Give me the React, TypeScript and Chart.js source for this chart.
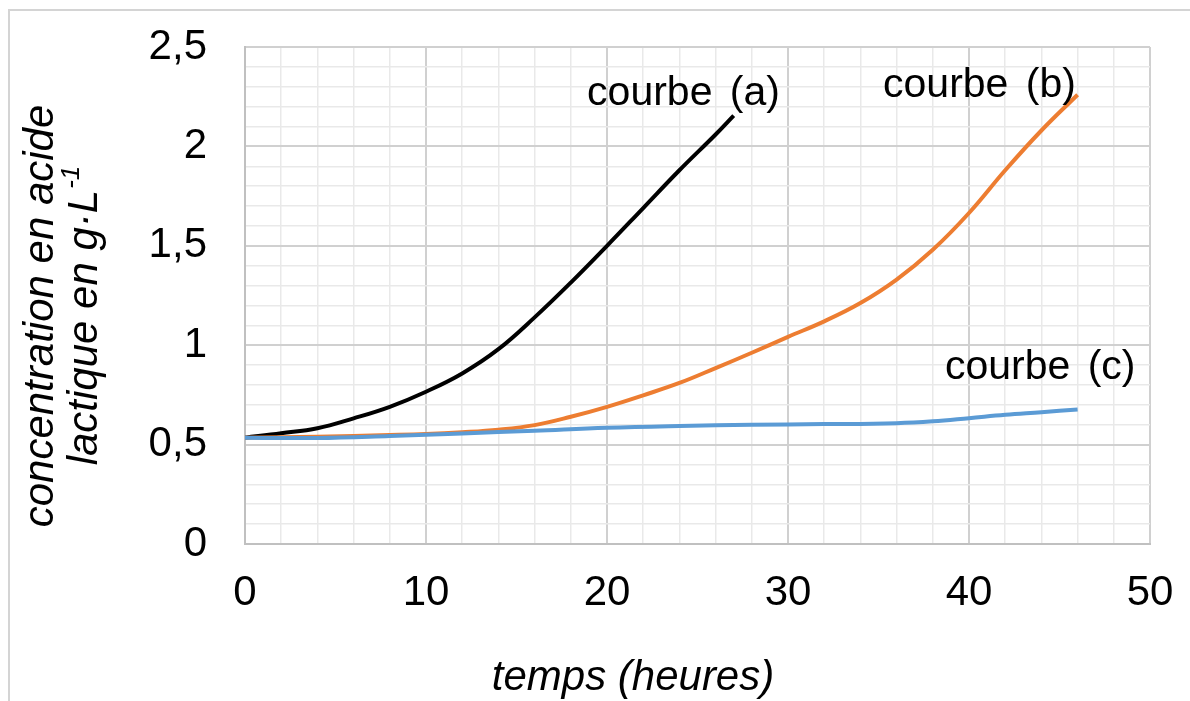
import React, { useEffect, useRef } from "react";
import { Chart, registerables } from "chart.js";

Chart.register(...registerables);

// Courbe (a)
const timeA = [0, 2, 4, 6, 8, 10, 12, 14, 16, 18, 20, 22, 24, 26, 27];
const concA = [0.535, 0.557, 0.582, 0.632, 0.69, 0.766, 0.858, 0.98, 1.14, 1.315, 1.5, 1.69, 1.88, 2.06, 2.155];

// Courbe (b)
const timeB = [0, 4, 8, 10, 12, 14, 16, 18, 20, 22, 24, 26, 28, 30, 32, 34, 36, 38, 40, 42, 44, 46];
const concB = [0.535, 0.54, 0.548, 0.553, 0.562, 0.575, 0.598, 0.64, 0.69, 0.748, 0.81, 0.885, 0.962, 1.042, 1.12, 1.212, 1.33, 1.48, 1.665, 1.88, 2.08, 2.26];

// Courbe (c)
const timeC = [0, 4, 8, 12, 16, 20, 24, 28, 32, 36, 38, 40, 42, 44, 46];
const concC = [0.535, 0.533, 0.543, 0.556, 0.57, 0.585, 0.594, 0.6, 0.603, 0.608, 0.617, 0.633, 0.65, 0.663, 0.677];

const curveLabels = [
  { text: "courbe (a)", x: 18.9, y: 2.21 },
  { text: "courbe (b)", x: 35.25, y: 2.25 },
  { text: "courbe (c)", x: 38.67, y: 0.83 },
];

const xTitle = "temps (heures)";
const yTitleLine1 = "concentration en acide";
const yTitleLine2 = "lactique en g·L";
const yTitleSup = "-1";

const FONT = "'Liberation Sans', Arial, Helvetica, sans-serif";

const toPoints = (xs: number[], ys: number[]) => xs.map((x, i) => ({ x, y: ys[i] }));

const isMajorX = (v: number) => Math.abs(v / 10 - Math.round(v / 10)) < 1e-6;
const isMajorY = (v: number) => Math.abs(v * 2 - Math.round(v * 2)) < 1e-6;

const decorPlugin = {
  id: "decor",
  beforeDraw(chart: any) {
    const ctx = chart.ctx;
    ctx.save();
    ctx.fillStyle = "#ffffff";
    ctx.fillRect(0, 0, chart.width, chart.height);
    ctx.strokeStyle = "#d4d4d4";
    ctx.lineWidth = 2;
    ctx.beginPath();
    ctx.moveTo(9, chart.height);
    ctx.lineTo(9, 10);
    ctx.lineTo(chart.width, 10);
    ctx.stroke();
    ctx.restore();
  },
  afterDraw(chart: any) {
    const ctx = chart.ctx;
    const xs = chart.scales.x;
    const ys = chart.scales.y;
    ctx.save();
    ctx.fillStyle = "#000000";
    // curve labels
    ctx.font = `41px ${FONT}`;
    ctx.textAlign = "left";
    ctx.textBaseline = "alphabetic";
    try {
      (ctx as any).wordSpacing = "6px";
    } catch (e) {}
    curveLabels.forEach((l) => {
      ctx.fillText(l.text, xs.getPixelForValue(l.x), ys.getPixelForValue(l.y));
    });
    try {
      (ctx as any).wordSpacing = "0px";
    } catch (e) {}
    // x title
    ctx.font = `italic 42px ${FONT}`;
    ctx.textAlign = "center";
    ctx.fillText(xTitle, 633, 690);
    // y title
    ctx.save();
    ctx.translate(53, 316);
    ctx.rotate(-Math.PI / 2);
    ctx.textAlign = "center";
    ctx.fillText(yTitleLine1, 0, 0);
    ctx.font = `italic 42px ${FONT}`;
    const wMain = ctx.measureText(yTitleLine2).width;
    ctx.font = `italic 26px ${FONT}`;
    const wSup = ctx.measureText(yTitleSup).width;
    const start = -(wMain + wSup) / 2;
    ctx.textAlign = "left";
    ctx.font = `italic 42px ${FONT}`;
    ctx.fillText(yTitleLine2, start, 44);
    ctx.font = `italic 26px ${FONT}`;
    ctx.fillText(yTitleSup, start + wMain + 1, 44 - 18);
    ctx.restore();
    ctx.restore();
  },
};

export default function App() {
  const ref = useRef<HTMLCanvasElement | null>(null);

  useEffect(() => {
    if (!ref.current) return;
    const common = {
      borderWidth: 4,
      pointRadius: 0,
      tension: 0.4,
      fill: false,
    };
    const chart = new Chart(ref.current, {
      type: "line",
      data: {
        datasets: [
          { label: "courbe (c)", data: toPoints(timeC, concC), borderColor: "#5B9BD5", ...common },
          { label: "courbe (b)", data: toPoints(timeB, concB), borderColor: "#ED7D31", ...common },
          { label: "courbe (a)", data: toPoints(timeA, concA), borderColor: "#000000", ...common },
        ],
      },
      options: {
        animation: false,
        responsive: false,
        devicePixelRatio: 1,
        layout: { padding: { left: 0, top: 47, right: 40, bottom: 0 } },
        plugins: {
          legend: { display: false },
          tooltip: { enabled: false },
          title: { display: false },
        },
        scales: {
          x: {
            type: "linear",
            min: 0,
            max: 50,
            afterFit: (s: any) => {
              s.height = 157;
              s.paddingLeft = 0;
              s.paddingRight = 0;
            },
            ticks: {
              stepSize: 2,
              autoSkip: false,
              maxRotation: 0,
              padding: 24,
              color: "#000000",
              font: { family: FONT, size: 42 },
              callback: (v: any) => (isMajorX(Number(v)) ? String(Math.round(Number(v))) : ""),
            },
            grid: {
              drawTicks: false,
              color: (c: any) => (isMajorX(c.tick.value) ? "#d0d0d0" : "#e9e9e9"),
              lineWidth: (c: any) => (isMajorX(c.tick.value) ? 2 : 1.5),
            },
            border: { color: "#c0c0c0", width: 2 },
          },
          y: {
            type: "linear",
            min: 0,
            max: 2.5,
            afterFit: (s: any) => {
              s.width = 245;
              s.paddingTop = 0;
              s.paddingBottom = 0;
            },
            ticks: {
              stepSize: 0.1,
              autoSkip: false,
              padding: 38,
              color: "#000000",
              font: { family: FONT, size: 42 },
              callback: (v: any) => {
                const n = Number(v);
                if (!isMajorY(n)) return "";
                const r = Math.round(n * 2) / 2;
                return String(r).replace(".", ",");
              },
            },
            grid: {
              drawTicks: false,
              color: (c: any) => (isMajorY(c.tick.value) ? "#d0d0d0" : "#e9e9e9"),
              lineWidth: (c: any) => (isMajorY(c.tick.value) ? 2 : 1.5),
            },
            border: { color: "#c0c0c0", width: 2 },
          },
        },
      },
      plugins: [decorPlugin],
    } as any);
    return () => chart.destroy();
  }, []);

  return (
    <div style={{ position: "fixed", left: 0, top: 0, width: 1190, height: 701, background: "#fff" }}>
      <canvas ref={ref} width={1190} height={701} style={{ display: "block" }} />
    </div>
  );
}
